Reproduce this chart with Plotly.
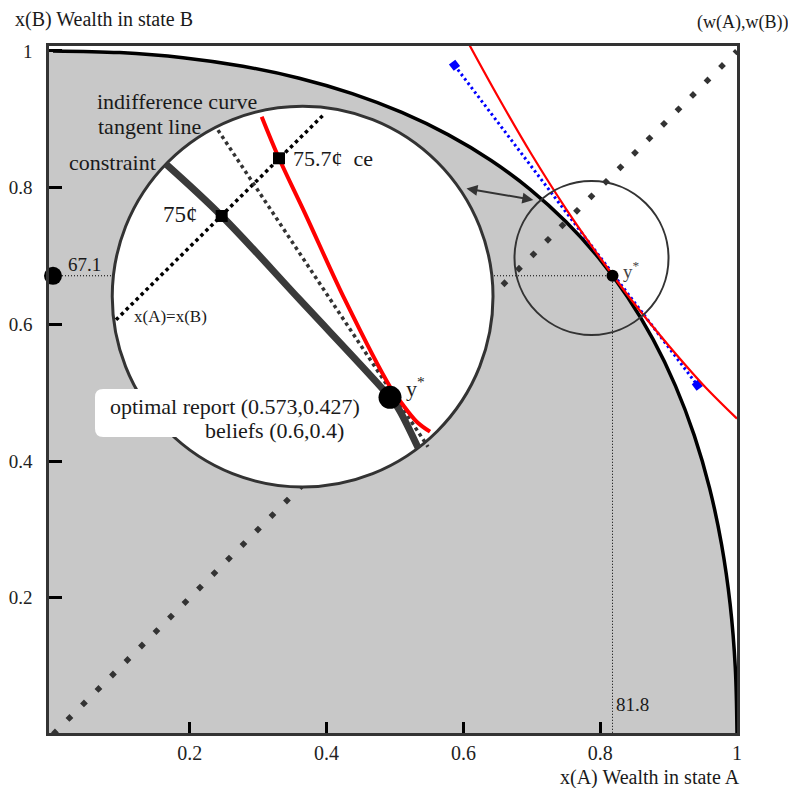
import plotly.graph_objects as go

# ---------------- data ----------------
# budget constraint (wealth in state A, wealth in state B)
constraint_x = [0.0, 0.0975, 0.19, 0.2775, 0.36, 0.4375, 0.51, 0.5775, 0.64, 0.6975, 0.75,
                0.7975, 0.84, 0.8775, 0.91, 0.9375, 0.96, 0.9775, 0.99, 0.9975, 1.0]
constraint_y = [1.0, 0.9975, 0.99, 0.9775, 0.96, 0.9375, 0.91, 0.8775, 0.84, 0.7975, 0.75,
                0.6975, 0.64, 0.5775, 0.51, 0.4375, 0.36, 0.2775, 0.19, 0.0975, 0.0]

# indifference curve through the optimum
indiff_x = [0.607, 0.65, 0.70, 0.75, 0.80, 0.85, 0.90, 0.95, 1.0]
indiff_y = [1.012, 0.934, 0.848, 0.769, 0.697, 0.630, 0.569, 0.512, 0.462]

# tangent line (blue dotted)
tangent_x = [0.587, 0.942]
tangent_y = [0.979, 0.511]

# certainty line x(A) = x(B)
diag_x = [0.0, 1.0]
diag_y = [0.0, 1.0]

# optimum y*
opt_x = 0.818
opt_y = 0.671
opt_label_x = "81.8"
opt_label_y = "67.1"

# magnified inset (in the same coordinates)
inset_constraint_x = [0.1652, 0.2466, 0.3611, 0.4927, 0.5048, 0.5341]
inset_constraint_y = [0.8345, 0.7585, 0.6356, 0.4932, 0.4771, 0.4186]
inset_indiff_x = [0.3051, 0.3304, 0.3684, 0.4269, 0.4927, 0.5098, 0.5317, 0.5512]
inset_indiff_y = [0.9037, 0.8429, 0.7624, 0.6356, 0.5087, 0.4844, 0.4575, 0.4429]
inset_tangent_x = [0.2412, 0.5482]
inset_tangent_y = [0.8841, 0.4209]
inset_diag_x = [0.0921, 0.3977]
inset_diag_y = [0.6065, 0.9087]
inset_ce_x = [0.2466, 0.3304]          # 75c on constraint, 75.7c on indifference curve
inset_ce_y = [0.7585, 0.8429]
inset_opt_x = [0.4927]
inset_opt_y = [0.4932]

tick_vals = [0.2, 0.4, 0.6, 0.8, 1.0]
tick_text = ["0.2", "0.4", "0.6", "0.8", "1"]

# ---------------- figure ----------------
# the page body has an 8px margin, so the figure is 8px smaller than the window
OFF = 8
W, H = 796 - OFF, 788 - OFF
PL, PR, PT, PB = 49, 737, 46, 733          # plot area in window pixels
ML, MR, MT, MB = PL - OFF, 796 - PR, PT - OFF, 788 - PB
XR = [-0.00585, 1.0]
YR = [0.00205, 1.00717]
FONT = "Liberation Serif, Times New Roman, serif"
GRAY = "#c8c8c8"
DARK = "#333333"


def P(px, py):
    """window pixel position -> paper coords"""
    return (px - PL) / (PR - PL), (PB - py) / (PB - PT)


fig = go.Figure()

# --- main subplot (x, y) ---
fig.add_trace(go.Scatter(x=constraint_x, y=constraint_y, mode="lines",
                         line=dict(color="black", width=3.5, shape="spline"),
                         fill="tozeroy", fillcolor=GRAY, hoverinfo="skip"))
fig.add_trace(go.Scatter(x=diag_x, y=diag_y, mode="lines",
                         line=dict(color=DARK, width=5.5, dash="5.5px,15px"), hoverinfo="skip"))
fig.add_trace(go.Scatter(x=[0, opt_x], y=[opt_y, opt_y], mode="lines",
                         line=dict(color="black", width=1, dash="1px,2px"), hoverinfo="skip"))
fig.add_trace(go.Scatter(x=[opt_x, opt_x], y=[opt_y, 0], mode="lines",
                         line=dict(color="black", width=1, dash="1px,2px"), hoverinfo="skip"))
fig.add_trace(go.Scatter(x=tangent_x, y=tangent_y, mode="lines+markers",
                         line=dict(color="#0000ff", width=3, dash="2.5px,3px"),
                         marker=dict(symbol="square", size=8, color="#0000ff", angle=53),
                         hoverinfo="skip"))
fig.add_trace(go.Scatter(x=indiff_x, y=indiff_y, mode="lines",
                         line=dict(color="#ff0000", width=2.2, shape="spline"), hoverinfo="skip"))
fig.add_trace(go.Scatter(x=[0, opt_x], y=[opt_y, 0], mode="markers", cliponaxis=False,
                         marker=dict(color="black", size=18), hoverinfo="skip"))
fig.add_trace(go.Scatter(x=[opt_x], y=[opt_y], mode="markers",
                         marker=dict(color="black", size=12), hoverinfo="skip"))

# --- inset subplot (x2, y2), drawn above the main one ---
fig.add_trace(go.Scatter(x=inset_diag_x, y=inset_diag_y, mode="lines", xaxis="x2", yaxis="y2",
                         line=dict(color="black", width=3.5, dash="3.5px,3.5px"), hoverinfo="skip"))
fig.add_trace(go.Scatter(x=inset_tangent_x, y=inset_tangent_y, mode="lines", xaxis="x2", yaxis="y2",
                         line=dict(color=DARK, width=3.5, dash="3.5px,3.5px"), hoverinfo="skip"))
fig.add_trace(go.Scatter(x=inset_constraint_x, y=inset_constraint_y, mode="lines", xaxis="x2", yaxis="y2",
                         line=dict(color="#3a3a3a", width=7, shape="spline"), hoverinfo="skip"))
fig.add_trace(go.Scatter(x=inset_indiff_x, y=inset_indiff_y, mode="lines", xaxis="x2", yaxis="y2",
                         line=dict(color="#ff0000", width=4, shape="spline"), hoverinfo="skip"))
fig.add_trace(go.Scatter(x=inset_ce_x, y=inset_ce_y, mode="markers", xaxis="x2", yaxis="y2",
                         marker=dict(symbol="square", size=12, color="black"), hoverinfo="skip"))
fig.add_trace(go.Scatter(x=inset_opt_x, y=inset_opt_y, mode="markers", xaxis="x2", yaxis="y2",
                         marker=dict(color="black", size=23), hoverinfo="skip"))

# --- shapes ---
shapes = []
# gray sliver left of x=0 (plot starts slightly left of 0)
shapes.append(dict(type="rect", xref="x", yref="y", x0=XR[0], x1=0, y0=YR[0], y1=1.0,
                   fillcolor=GRAY, line=dict(width=0), layer="below"))
# magnifier circle (white)
shapes.append(dict(type="circle", xref="x2", yref="y2", x0=0.0866, x1=0.6433, y0=0.3620, y1=0.9191,
                   fillcolor="white", line=dict(color=DARK, width=3), layer="below"))
# rounded white box for the caption
bx0, bx1, by0, by1, r = 0.0614, 0.40, 0.4351, 0.5053, 0.012
box_path = (f"M {bx0 + r},{by1} L {bx1 - r},{by1} Q {bx1},{by1} {bx1},{by1 - r} "
            f"L {bx1},{by0 + r} Q {bx1},{by0} {bx1 - r},{by0} L {bx0 + r},{by0} "
            f"Q {bx0},{by0} {bx0},{by0 + r} L {bx0},{by1 - r} Q {bx0},{by1} {bx0 + r},{by1} Z")
shapes.append(dict(type="path", xref="x2", yref="y2", path=box_path,
                   fillcolor="white", line=dict(width=0), layer="below"))
# small circle around the optimum
shapes.append(dict(type="circle", xref="x", yref="y", x0=0.6747, x1=0.8999, y0=0.5844, y1=0.8097,
                   fillcolor="rgba(0,0,0,0)", line=dict(color=DARK, width=2), layer="above"))

# --- annotations ---
ann = []


def text(px, py, s, size=21, anchor="left", color="#1a1a1a"):
    x, y = P(px, py)
    ann.append(dict(xref="paper", yref="paper", x=x, y=y, text=s, showarrow=False,
                    xanchor=anchor, yanchor="middle", font=dict(family=FONT, size=size, color=color)))


text(13, 19, "x(B) Wealth in state B", 20)
text(790, 23, "(w(A),w(B))", 18, anchor="right")
text(742, 777, "x(A) Wealth in state A", 20, anchor="right")
text(66, 264, opt_label_y, 19)
text(614, 704, opt_label_x, 19)
text(621, 270, "y<sup>*</sup>", 19, color="#444444")
text(95, 101, "indifference curve", 22)
text(96, 126, "tangent line", 22)
text(67, 162, "constraint", 22)
text(291, 158, "75.7¢&nbsp; ce", 22)
text(161, 214, "75¢", 23)
text(132, 316, "x(A)=x(B)", 17)
text(404, 387, "y<sup>*</sup>", 22)
text(108, 406, "optimal report (0.573,0.427)", 22)
text(203, 430, "beliefs (0.6,0.4)", 22)

# double arrow between the two circles
ann.append(dict(xref="x", yref="y", axref="x", ayref="y",
                x=0.7022, y=0.7820, ax=0.6023, ay=0.7990, text="", showarrow=True,
                arrowhead=2, startarrowhead=2, arrowside="end+start", arrowsize=1.1,
                arrowwidth=2, arrowcolor=DARK))

axis_common = dict(showgrid=False, zeroline=False, fixedrange=True, automargin=False)
fig.update_layout(
    width=W, height=H,
    margin=dict(l=ML, r=MR, t=MT, b=MB, pad=0, autoexpand=False),
    paper_bgcolor="white", plot_bgcolor="rgba(0,0,0,0)",
    showlegend=False,
    shapes=shapes, annotations=ann,
    xaxis=dict(range=XR, tickvals=tick_vals, ticktext=tick_text, ticks="inside", ticklen=11,
               tickwidth=3, tickcolor="black", showline=True, linecolor=DARK, linewidth=2.5,
               mirror=True, ticklabelstandoff=0,
               tickfont=dict(family=FONT, size=20, color="#222222"), **axis_common),
    yaxis=dict(range=YR, tickvals=tick_vals, ticktext=tick_text, ticks="inside", ticklen=13,
               tickwidth=3, tickcolor="black", showline=True, linecolor=DARK, linewidth=2.5,
               mirror=True, ticklabelstandoff=10,
               tickfont=dict(family=FONT, size=19, color="#222222"), **axis_common),
    xaxis2=dict(range=XR, visible=False, anchor="y2", domain=[0, 1], **axis_common),
    yaxis2=dict(range=YR, visible=False, anchor="x2", domain=[0, 1], **axis_common),
)

fig.write_html("out.html")
